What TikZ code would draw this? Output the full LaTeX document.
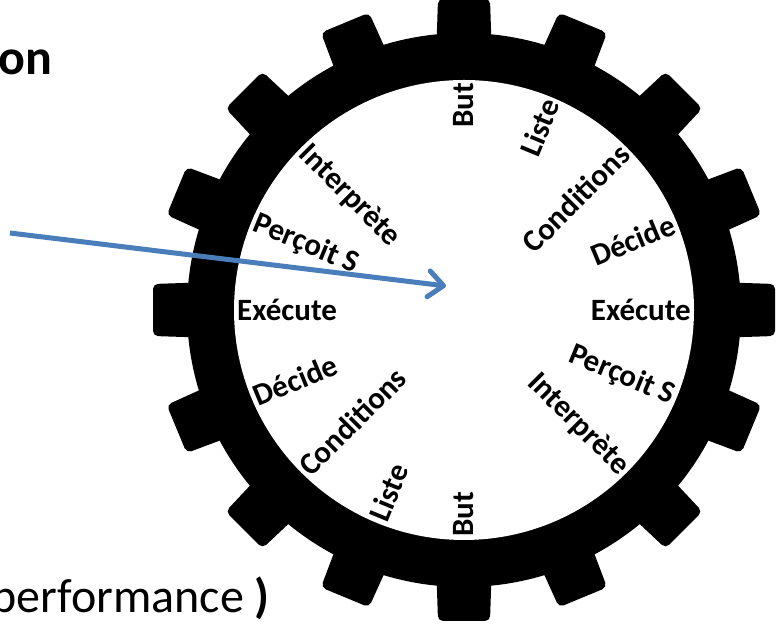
\documentclass[tikz,border=0pt]{standalone}
\usepackage{fontspec}
\setmainfont{Carlito}
\usetikzlibrary{arrows.meta}
\definecolor{arrowblue}{HTML}{4A7EBB}
\begin{document}
\begin{tikzpicture}[x=1pt,y=1pt,
  lbl/.style={font=\fontsize{31}{36}\selectfont\bfseries, inner sep=1pt},
  bigtext/.style={font=\fontsize{48}{56}\selectfont, inner sep=0pt},
  tooth/.style={fill=black, rounded corners=5pt},
  pointer/.style={draw=arrowblue, line width=5pt,
    -{Straight Barb[length=15pt,width=26pt,line width=5pt,round]}}]
\useasboundingbox (0,0) rectangle (779,628);
\clip (0,0) rectangle (779,628);
\coordinate (C) at (464,318);
% gear body
\fill[black] (C) circle (277);
\foreach \a in {0,22.5,...,337.5}{
  \begin{scope}[shift={(C)}, rotate=\a]
    \fill[tooth] (250,-28) -- (311,-26) -- (311,26) -- (250,28) -- cycle;
  \end{scope}
}
\fill[white] (C) circle (230);
% labels, right half (reading outward)
\foreach \t/\a [count=\i] in {But/90, Liste/67.5, Conditions/45, Décide/22.5, Exécute/0, Perçoit S/-22.5, Interprète/-45}{
  \node[lbl, anchor=east, rotate=\a] (r\i) at ([shift={(\a:228)}]C) {\t};
}
% labels, left half (reading inward)
\foreach \t/\a [count=\i] in {But/270, Liste/247.5, Conditions/225, Décide/202.5, Exécute/180, Perçoit S/157.5, Interprète/135}{
  \pgfmathsetmacro{\rr}{\a-180}
  \node[lbl, anchor=west, rotate=\rr] (l\i) at ([shift={(\a:228)}]C) {\t};
}
% partial texts
\node[bigtext, font=\fontsize{50}{58}\selectfont\bfseries, anchor=base west] (title) at (-2,553) {on};
\node[bigtext, anchor=base east] (perf) at (270,15) {performance \textbf{)}};
% arrow
\coordinate (a0) at (10,395);
\coordinate (a1) at (446,342);
\draw[pointer] (a0) -- (a1);
\end{tikzpicture}
\end{document}
